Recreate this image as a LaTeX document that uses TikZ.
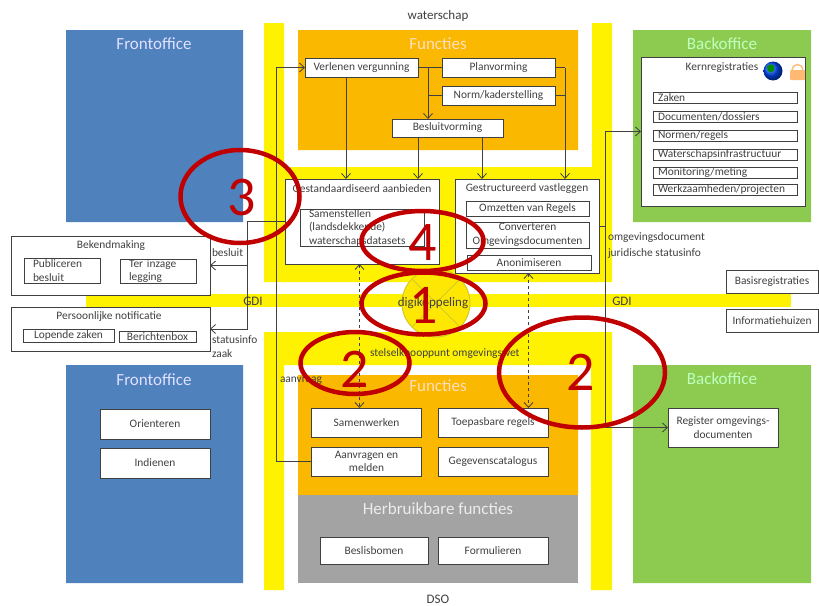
\documentclass[tikz,border=0pt]{standalone}
\usepackage{fontspec}
\setmainfont{Carlito}
\usetikzlibrary{arrows.meta,shapes.geometric}
\definecolor{officeblue}{HTML}{4F81BD}
\definecolor{officegreen}{HTML}{8DCB50}
\definecolor{funcorange}{HTML}{FBB800}
\definecolor{reusegrey}{HTML}{A3A3A3}
\definecolor{ringred}{HTML}{C00000}
\definecolor{inkgrey}{HTML}{404040}
\begin{document}
\begin{tikzpicture}[
  x=1pt, y=-1pt,
  every node/.style = {font=\fontsize{11.4}{13.5}\selectfont, text=inkgrey, inner sep=0pt, outer sep=0pt},
  box/.style = {draw=inkgrey, fill=white, line width=0.9pt, align=center, minimum width=#1},
  box/.default = 110pt,
  regbox/.style = {box=144pt, text width=134pt, inner xsep=5pt, align=left, minimum height=11pt},
  leftbox/.style = {box=76pt, text width=58pt, inner xsep=9pt, align=left},
  title/.style = {font=\fontsize{17}{19}\selectfont},
  caption/.style = {font=\fontsize{13}{15}\selectfont},
  tag/.style = {anchor=west},
  link/.style = {draw=inkgrey, line width=0.8pt},
  arrow/.style = {link, -{Straight Barb[length=5pt,width=9pt]}},
  dashlink/.style = {link, dashed, {Straight Barb[length=5pt,width=9pt]}-{Straight Barb[length=5pt,width=9pt]}},
  ring/.style = {draw=ringred, line width=4.5pt, ellipse},
  digit/.style = {font=\fontsize{56}{56}\selectfont, text=ringred}
]
  \useasboundingbox (0,0) rectangle (819,605);
  \fill[white] (0,0) rectangle (819,605);

  % yellow bands
  \fill[yellow] (264,23) rectangle (284,282) (592,23) rectangle (612,282) (264,167) rectangle (612,282);
  \fill[yellow] (264,332) rectangle (284,590) (591,332) rectangle (612,590) (264,332) rectangle (612,365);
  \fill[yellow] (86,294) rectangle (791,307);

  % coloured blocks
  \fill[officeblue] (66,30) rectangle (243,222) (66,365) rectangle (243,583);
  \fill[officegreen] (633,30) rectangle (811,222) (633,365) rectangle (811,583);
  \fill[funcorange] (298,30) rectangle (578,150) (298,375) rectangle (578,495);
  \fill[reusegrey] (298,495) rectangle (578,583);

  \node[title, text=blue!12!white] (fronttop) at (154,44) {Frontoffice};
  \node[title, text=blue!12!white] (frontbottom) at (154,380) {Frontoffice};
  \node[title, text=green!25!white] (backtop) at (722,44) {Backoffice};
  \node[title, text=green!25!white] (backbottom) at (722,379) {Backoffice};
  \node[title, text=orange!25!white] (functop) at (438,44) {Functies};
  \node[title, text=orange!25!white] (funcbottom) at (438,386) {Functies};
  \node[title, text=white!85!gray] (reuse) at (438,509) {Herbruikbare functies};

  \node[caption] (waterschap) at (438,16) {waterschap};
  \node[caption] (dso) at (438,599) {DSO};

  % waterschap
  \node[box=113pt, minimum height=19pt] (verlenen) at (361.5,67.5) {Verlenen vergunning};
  \node[box=113pt, minimum height=19pt] (planvorming) at (498.5,67.5) {Planvorming};
  \node[box=113pt, minimum height=19pt] (normkader) at (498.5,95.5) {Norm/kaderstelling};
  \node[box=111pt, minimum height=18pt] (besluitvorming) at (447.5,128) {Besluitvorming};

  \node[box=154pt, minimum height=85pt] (aanbieden) at (362,221.5) {};
  \node (aanbiedentitle) at (362,189) {Gestandaardiseerd aanbieden};
  \node[box=124pt, minimum height=37pt, text width=106pt, inner xsep=9pt, align=left] (samenstellen) at (362,227.5) {Samenstellen\\(landsdekkende)\\waterschapsdatasets};

  \node[box=144pt, minimum height=94pt] (vastleggen) at (527,226) {};
  \node (vastleggentitle) at (527,189) {Gestructureerd vastleggen};
  \node[box=123pt, minimum height=15pt] (omzetten) at (527.5,208.5) {Omzetten van Regels};
  \node[box=123pt, minimum height=26pt] (converteren) at (527.5,235) {Converteren\\Omgevingsdocumenten};
  \node[box=124pt, minimum height=15pt] (anonimiseren) at (529,262.5) {Anonimiseren};

  % links
  \node[box=199pt, minimum height=59pt] (bekendmaking) at (110.5,265.5) {};
  \node (bekendtitle) at (111,246) {Bekendmaking};
  \node[leftbox, minimum height=25pt] (publiceren) at (62,270.5) {Publiceren\\besluit};
  \node[leftbox, minimum height=24pt] (terinzage) at (158,271) {Ter inzage\\legging};
  \node[box=199pt, minimum height=44pt] (notificatie) at (110.5,329) {};
  \node (notificatietitle) at (109,317) {Persoonlijke notificatie};
  \node[box=91pt, minimum height=13pt] (lopende) at (68.5,335.5) {Lopende zaken};
  \node[box=77pt, minimum height=11pt] (berichtenbox) at (157.5,336.5) {Berichtenbox};
  \node[box=110pt, minimum height=30pt] (orienteren) at (155,424) {Orienteren};
  \node[box=110pt, minimum height=30pt] (indienen) at (155,463) {Indienen};

  % DSO
  \node[box, minimum height=29pt] (samenwerken) at (366.5,422.5) {Samenwerken};
  \node[box, minimum height=29pt] (toepasbaar) at (493,422.5) {Toepasbare regels};
  \node[box, minimum height=29pt] (aanvragen) at (366.5,461.5) {Aanvragen en\\melden};
  \node[box, minimum height=29pt] (catalogus) at (493,461.5) {Gegevenscatalogus};
  \node[box=108pt, minimum height=27pt] (beslisbomen) at (374,550.5) {Beslisbomen};
  \node[box, minimum height=27pt] (formulieren) at (493,550.5) {Formulieren};

  % backoffice
  \node[box=164pt, minimum height=149pt] (kern) at (723,131.5) {};
  \node (kerntitle) at (722,68) {Kernregistraties};
  \node[regbox] (zaken) at (725,98) {Zaken};
  \node[regbox] (documenten) at (725,117) {Documenten/dossiers};
  \node[regbox] (normen) at (725,135.5) {Normen/regels};
  \node[regbox] (infra) at (725,154.5) {Waterschapsinfrastructuur};
  \node[regbox] (monitoring) at (725,173) {Monitoring/meting};
  \node[regbox] (projecten) at (725,190) {Werkzaamheden/projecten};
  \node[box, minimum height=39pt] (register) at (723,427.5) {Register omgevings-\\documenten};
  \node[box=92pt, minimum height=23pt] (basis) at (772,281.5) {Basisregistraties};
  \node[box=92pt, minimum height=23pt] (huizen) at (772,320.5) {Informatiehuizen};

  % globe and lock
  \shade[ball color=blue!70!cyan] (773,71) circle (9.5);
  \fill[green!55!black] (767,66) .. controls (772,62) and (776,66) .. (774,70) .. controls (772,75) and (767,73) .. (767,66);
  \draw[orange!50!white, line width=1.6pt] (792,70) arc (180:360:5.5);
  \fill[orange!55!white, rounded corners=1pt] (790,70) rectangle (805,80);

  % digikoppeling
  \node[circle, draw=yellow!80!black, fill=yellow!90!orange, line width=1pt, minimum size=68pt] (hub) at (436,303) {};
  \draw[yellow!80!black, line width=1pt] (hub.north west) -- (hub.south east) (hub.north east) -- (hub.south west);
  \node[caption] (digikoppeling) at (433,303) {digikoppeling};

  \node[caption] (gdileft) at (253,301) {GDI};
  \node[caption] (gdiright) at (622,301) {GDI};
  \node[tag] (besluit) at (212,253) {besluit};
  \node[tag] (statusinfo) at (212,340) {statusinfo};
  \node[tag] (zaak) at (212,354) {zaak};
  \node[tag] (aanvraag) at (280,381) {aanvraag};
  \node[tag] (stelsel) at (370,354) {stelselknooppunt omgevingswet};
  \node[tag] (omgevingsdoc) at (608,238) {omgevingsdocument};
  \node[tag] (juridisch) at (608,254) {juridische statusinfo};

  % connectors
  \coordinate (trunk) at (428,67.5);
  \coordinate (planrail) at (565,67.5);
  \coordinate (leftrail) at (276.5,222);
  \coordinate (split) at (247,221.5);
  \coordinate (rightrail) at (605,226);
  \coordinate (dashleft) at (359.5,300);
  \coordinate (dashright) at (528.5,300);

  \draw[link] (verlenen.east) -- (planvorming.west);
  \draw[link] (normkader.west) -- (trunk |- normkader.west);
  \draw[arrow] (trunk) -- (trunk |- besluitvorming.north);
  \draw[link] (planvorming.east) -- (planrail);
  \draw[link] (normkader.east) -- (planrail |- normkader.east);
  \draw[arrow] (planrail) -- (planrail |- vastleggen.north);
  \draw[arrow] (verlenen.south -| 346,0) -- (aanbieden.north -| 346,0);
  \draw[arrow] (besluitvorming.south -| 418,0) -- (aanbieden.north -| 418,0);
  \draw[arrow] (besluitvorming.south -| 482,0) -- (vastleggen.north -| 482,0);

  \draw[arrow] (aanvragen.west) -- (aanvragen.west -| leftrail) -- (verlenen.west -| leftrail) -- (verlenen.west);
  \draw[link] (aanbieden.west) -- (split);
  \draw[arrow] (split) |- (bekendmaking.east);
  \draw[arrow] (split) |- (notificatie.east);
  \draw[link] (vastleggen.east) -- (rightrail);
  \draw[arrow] (rightrail) |- (kern.west);
  \draw[arrow] (rightrail) |- (register.west);
  \draw[dashlink] (aanbieden.south -| dashleft) -- (samenwerken.north -| dashleft);
  \draw[dashlink] (vastleggen.south -| dashright) -- (toepasbaar.north -| dashright);

  % red rings
  \node[ring, minimum width=119pt, minimum height=93pt] (ringthree) at (240,196.5) {};
  \node[digit] (three) at (242,198) {3};
  \node[ring, minimum width=122pt, minimum height=60pt] (ringfour) at (422.5,241) {};
  \node[digit] (four) at (423,243) {4};
  \node[ring, minimum width=124pt, minimum height=62pt] (ringone) at (423.5,303.5) {};
  \node[digit] (one) at (424,305) {1};
  \node[ring, minimum width=109pt, minimum height=62pt] (ringtwoleft) at (355,363) {};
  \node[digit] (twoleft) at (355,369) {2};
  \node[ring, minimum width=166pt, minimum height=110pt] (ringtworight) at (582,372.5) {};
  \node[digit] (tworight) at (581,372) {2};
\end{tikzpicture}
\end{document}
